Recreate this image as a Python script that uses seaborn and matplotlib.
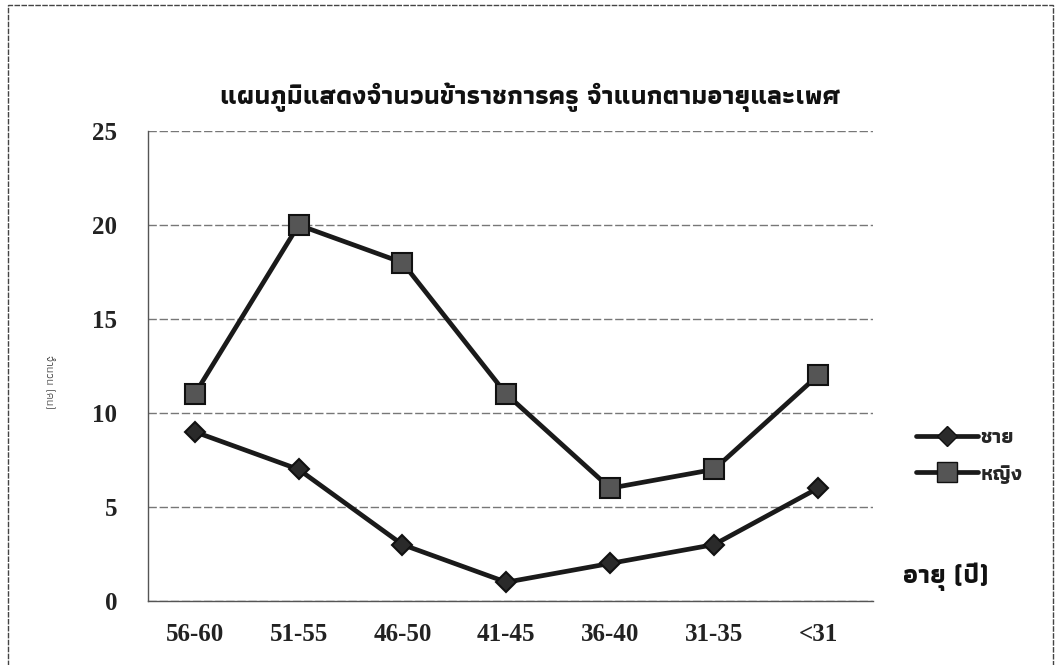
import matplotlib
matplotlib.use("Agg")
import matplotlib.pyplot as plt
import seaborn as sns
import pandas as pd
from matplotlib.patches import Rectangle
from matplotlib.lines import Line2D

age_groups = ["56-60", "51-55", "46-50", "41-45", "36-40", "31-35", "<31"]
male = [9, 7, 3, 1, 2, 3, 6]
female = [11, 20, 18, 11, 6, 7, 12]
series_names = ["ชาย", "หญิง"]
title = "แผนภูมิแสดงจำนวนข้าราชการครู จำแนกตามอายุและเพศ"
ylabel = "จำนวน (คน)"
xlabel = "อายุ (ปี)"
yticks = [0, 5, 10, 15, 20, 25]

sns.set_theme(style="white")
thai = "Athiti"
num = ["Liberation Serif", thai]
plt.rcParams["font.family"] = [thai, "DejaVu Sans"]

rows = []
for i, g in enumerate(age_groups):
    rows.append({"pos": i, "age": g, "sex": series_names[0], "n": male[i]})
    rows.append({"pos": i, "age": g, "sex": series_names[1], "n": female[i]})
df = pd.DataFrame(rows)

fig = plt.figure(figsize=(10.57, 6.65), dpi=100)
ax = fig.add_axes([148 / 1057, 1 - 601 / 665, (873 - 148) / 1057, (601 - 131) / 665])

sizes = [10, 14]
faces = ["#2a2a2a", "#555555"]
sns.lineplot(data=df, x="pos", y="n", hue="sex", style="sex",
             palette={series_names[0]: "#1a1a1a", series_names[1]: "#1a1a1a"},
             markers={series_names[0]: "D", series_names[1]: "s"},
             dashes=False, linewidth=3.4, ax=ax, legend=False)

for line, ms, fc in zip(ax.get_lines()[:2], sizes, faces):
    line.set_markersize(ms)
    line.set_markerfacecolor(fc)
    line.set_markeredgecolor("#111111")
    line.set_markeredgewidth(1.5)

ax.set_xlim(-0.45, 6.53)
ax.set_ylim(0, 25)
ax.set_yticks(yticks)
ax.set_xticks(range(len(age_groups)))
ax.set_xticklabels(age_groups)
for t in ax.get_xticklabels() + ax.get_yticklabels():
    t.set_fontfamily(num)
    t.set_fontsize(18)
    t.set_fontweight("bold")
    t.set_color("#222222")
ax.tick_params(axis="y", length=0, pad=22)
ax.tick_params(axis="x", length=0, pad=16)
ax.set_xlabel("")
ax.set_ylabel("")
ax.yaxis.grid(True, color="#777777", linewidth=1.0, linestyle=(0, (6, 2)))
ax.xaxis.grid(False)
for s in ["right", "top"]:
    ax.spines[s].set_visible(False)
for s in ["left", "bottom"]:
    ax.spines[s].set_color("#555555")
    ax.spines[s].set_linewidth(1.0)

h1 = Line2D([], [], color="#1a1a1a", lw=3.4, marker="D", markersize=sizes[0],
            markerfacecolor=faces[0], markeredgecolor="#111111")
h2 = Line2D([], [], color="#1a1a1a", lw=3.4, marker="s", markersize=sizes[1],
            markerfacecolor=faces[1], markeredgecolor="#111111")
fig.legend([h1, h2], series_names, loc="center left",
           bbox_to_anchor=(897 / 1057, 1 - 456 / 665), frameon=False,
           prop={"family": thai, "size": 15, "weight": "bold"},
           handlelength=3.0, handletextpad=0.1, labelspacing=0.85)

fig.text(530 / 1057, 1 - 97 / 665, title, ha="center", va="center",
         fontsize=19, fontweight="bold", color="#111111", family=thai)
fig.text(946 / 1057, 1 - 577 / 665, xlabel, ha="center", va="center",
         fontsize=19, fontweight="bold", color="#111111", family=thai)
fig.text(50 / 1057, 1 - 382 / 665, ylabel, ha="center", va="center",
         fontsize=8.5, rotation=270, color="#333333", family=thai)

fig.patches.append(Rectangle((8 / 1057, -0.01), (1053 - 8) / 1057, 1 - 5 / 665 + 0.01,
                             transform=fig.transFigure, fill=False,
                             edgecolor="#444444", linewidth=1.0, linestyle=(0, (4, 1))))

fig.savefig("out.png", dpi=100)
